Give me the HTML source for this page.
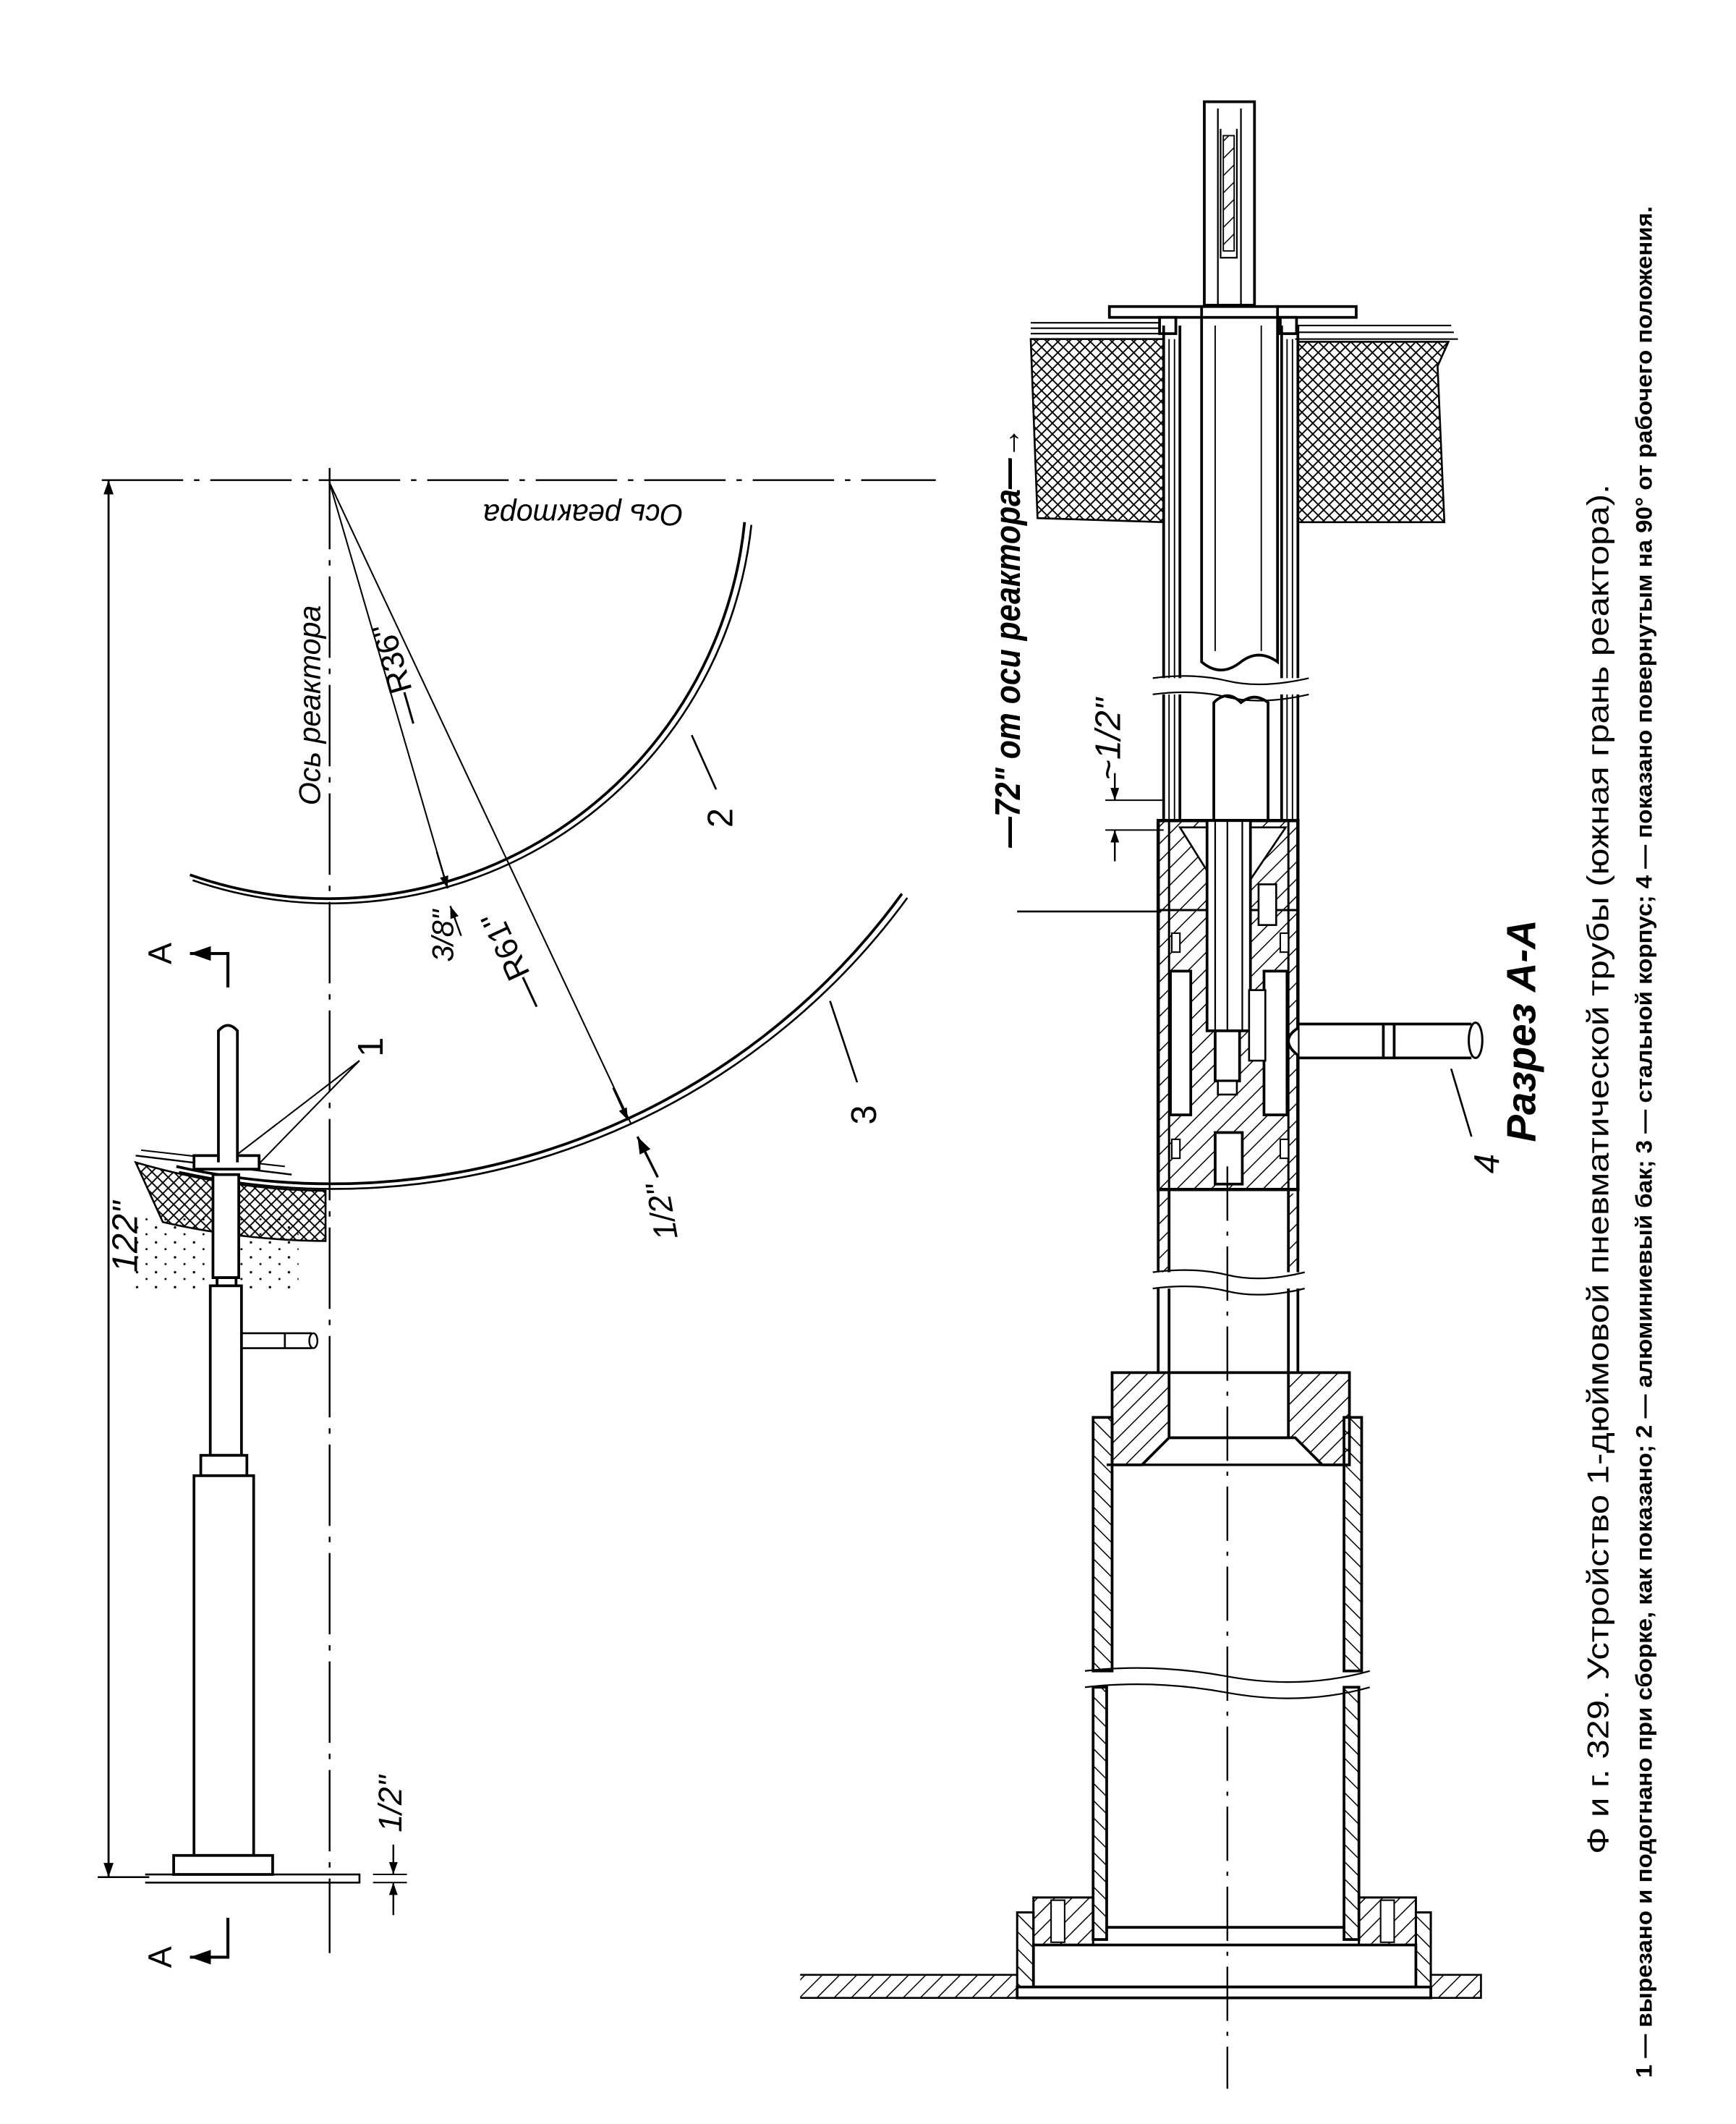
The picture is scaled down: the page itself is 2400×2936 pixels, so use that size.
<!DOCTYPE html>
<html><head><meta charset="utf-8"><style>
html,body{margin:0;padding:0;background:#fff}
svg{display:block}
text{font-family:"Liberation Sans","DejaVu Sans",sans-serif;fill:#000}
.it{font-style:italic}
</style></head><body>
<svg width="2400" height="2936" viewBox="0 0 1280 1566" xmlns="http://www.w3.org/2000/svg">
<defs>
<pattern id="xh" width="8" height="8" patternUnits="userSpaceOnUse">
<path d="M0 0L8 8M8 0L0 8" stroke="#000" stroke-width="1"/>
</pattern>
<pattern id="dh" width="9" height="9" patternUnits="userSpaceOnUse" patternTransform="rotate(45)">
<line x1="0" y1="0" x2="0" y2="9" stroke="#000" stroke-width="1.6"/>
</pattern>
<pattern id="dh2" width="9" height="9" patternUnits="userSpaceOnUse" patternTransform="rotate(-45)">
<line x1="0" y1="0" x2="0" y2="9" stroke="#000" stroke-width="1.6"/>
</pattern>
<pattern id="dots" width="14" height="11" patternUnits="userSpaceOnUse">
<circle cx="3" cy="3" r="0.9"/><circle cx="10" cy="8" r="0.8"/>
</pattern>
<marker id="ar" viewBox="0 0 10 10" refX="10" refY="5" markerWidth="7" markerHeight="7" orient="auto-start-reverse">
<path d="M0 1.5L10 5L0 8.5z"/>
</marker>
</defs>
<g fill="none" stroke="#000" stroke-width="2">
<!-- ===== LEFT VIEW ===== -->
<line x1="75" y1="354" x2="690" y2="354" stroke-width="1.3" stroke-dasharray="60 8 4 8"/>
<line x1="243" y1="345" x2="243" y2="1440" stroke-width="1.3" stroke-dasharray="60 8 4 8"/>
<line x1="80" y1="354" x2="80" y2="1384" stroke-width="1.5" marker-start="url(#ar)" marker-end="url(#ar)"/>
<line x1="72" y1="1384" x2="110" y2="1384" stroke-width="1.3"/>
<!-- arcs -->
<path d="M140 645 A308 308 0 0 0 549 385"/>
<path d="M142 649 A312 312 0 0 0 554 387" stroke-width="1.4"/>
<path d="M130 860 A520 520 0 0 0 665 659"/>
<path d="M132 864 A524 524 0 0 0 669 662" stroke-width="1.4"/>
<!-- radials -->
<line x1="243" y1="356" x2="330" y2="655" stroke-width="1.1"/>
<line x1="243" y1="356" x2="465" y2="828" stroke-width="1.1"/>
<line x1="322" y1="628" x2="330" y2="655" stroke-width="1.3" marker-end="url(#ar)"/>
<line x1="340" y1="690" x2="332" y2="668" stroke-width="1.3" marker-end="url(#ar)"/>
<line x1="452" y1="802" x2="463" y2="826" stroke-width="1.3" marker-end="url(#ar)"/>
<line x1="485" y1="868" x2="470" y2="838" stroke-width="1.8" marker-end="url(#ar)"/>
<!-- leaders -->
<line x1="510" y1="542" x2="528" y2="582" stroke-width="1.4"/>
<line x1="612" y1="738" x2="632" y2="798" stroke-width="1.4"/>
<line x1="265" y1="782" x2="166" y2="858" stroke-width="1.1"/>
<line x1="265" y1="782" x2="188" y2="861" stroke-width="1.1"/>
<!-- concrete band -->
<path d="M100 857 A522 522 0 0 0 240 878 L240 915 A560 560 0 0 1 120 901 Z" fill="url(#xh)" stroke-width="1.4"/>
<rect x="100" y="895" width="120" height="55" fill="url(#dots)" stroke="none"/>
<!-- plates -->
<path d="M100 852 L215 866" stroke-width="1.3"/>
<path d="M104 848 L210 860" stroke-width="1.1"/>
<rect x="143" y="852" width="48" height="10" fill="#fff"/>
<!-- stem -->
<path d="M161 857 L161 760 Q168 752 175 760 L175 857" fill="#fff"/>
<rect x="157" y="866" width="19" height="76" fill="#fff"/>
<rect x="160" y="942" width="14" height="6" fill="#fff"/>
<rect x="155" y="948" width="23" height="125" fill="#fff"/>
<path d="M178 983 L230 983 M178 994 L230 994 M210 983 L210 994" stroke-width="1.4"/>
<ellipse cx="231" cy="988.5" rx="3" ry="5.5" stroke-width="1.3"/>
<rect x="148" y="1073" width="34" height="15" fill="#fff"/>
<rect x="143" y="1088" width="44" height="280" fill="#fff"/>
<rect x="128" y="1368" width="73" height="14" fill="#fff"/>
<path d="M107 1382 L265 1382 L265 1388 L107 1388" stroke-width="1.4"/>
<!-- 1/2 dim -->
<line x1="275" y1="1382" x2="300" y2="1382" stroke-width="1.1"/>
<line x1="275" y1="1388" x2="300" y2="1388" stroke-width="1.1"/>
<line x1="290" y1="1360" x2="290" y2="1382" stroke-width="1.3" marker-end="url(#ar)"/>
<line x1="290" y1="1412" x2="290" y2="1388" stroke-width="1.3" marker-end="url(#ar)"/>
<!-- section marks -->
<path d="M168 728 L168 703 L140 703" stroke-width="2.2" marker-end="url(#ar)"/>
<path d="M168 1414 L168 1443 L140 1443" stroke-width="2.2" marker-end="url(#ar)"/>

<!-- ===== SECTION A-A ===== -->
<rect x="888" y="75" width="37" height="150" fill="#fff"/>
<path d="M898 80 L898 225 M915 80 L915 225 M900 95 L900 190 L912 190 L912 95" stroke-width="1.2"/>
<rect x="902" y="100" width="8" height="85" fill="url(#dh)" stroke-width="1"/>
<rect x="818" y="226" width="182" height="8" fill="#fff"/>
<path d="M760 238 L858 238 M760 242 L858 242 M760 246 L858 246 M955 240 L1070 240 M955 245 L1072 245 M955 250 L1075 250" stroke-width="1.1"/>
<rect x="855" y="234" width="12" height="12" fill="#fff"/>
<rect x="944" y="234" width="12" height="12" fill="#fff"/>
<path d="M760 250 L858 250 L858 385 L765 382 Z" fill="url(#xh)" stroke-width="1.4"/>
<path d="M957 252 L1068 252 L1060 270 L1065 385 L957 385 Z" fill="url(#xh)" stroke-width="1.4"/>
<path d="M858 240 L858 500 M870 240 L870 500 M945 240 L945 500 M957 240 L957 500"/>
<path d="M862 250 L862 500 M866 250 L866 500 M949 250 L949 500 M953 250 L953 500" stroke-width="1"/>
<path d="M858 512 L858 605 M870 512 L870 605 M945 512 L945 605 M957 512 L957 605"/>
<path d="M862 512 L862 605 M866 512 L866 605 M949 512 L949 605 M953 512 L953 605" stroke-width="1"/>
<path d="M850 500 Q880 496 905 502 T965 500 M850 512 Q880 508 905 514 T965 512" stroke-width="1.2"/>
<path d="M886 225 L886 488 Q900 500 915 488 Q928 478 942 488 L942 225"/>
<path d="M896 240 L896 480 M930 240 L930 480" stroke-width="1"/>
<path d="M895 605 L895 518 Q905 508 915 518 Q925 510 935 518 L935 605"/>
<rect x="854" y="605" width="103" height="272" fill="url(#dh)" stroke-width="2.4"/>
<path d="M862 605 L862 877 M950 605 L950 877" stroke-width="1.6"/>
<path d="M870 610 L895 650 L921 650 L948 610 Z" fill="#fff" stroke-width="1.4"/>
<line x1="854" y1="671" x2="957" y2="671" stroke-width="1.6"/>
<rect x="890" y="605" width="32" height="155" fill="#fff"/>
<path d="M896 605 L896 760 M916 605 L916 760 M905 605 L905 760" stroke-width="1.2"/>
<rect x="863" y="716" width="15" height="106" fill="#fff"/>
<rect x="932" y="716" width="17" height="106" fill="#fff"/>
<rect x="921" y="730" width="12" height="52" fill="#fff" stroke-width="1.4"/>
<rect x="896" y="760" width="18" height="37" fill="#fff"/>
<rect x="898" y="797" width="14" height="10" fill="#fff" stroke-width="1.4"/>
<path d="M896 873 L896 835 L916 835 L916 873 Z" fill="#fff"/>
<rect x="928" y="652" width="13" height="30" fill="#fff" stroke-width="1.4"/>
<rect x="864" y="688" width="6" height="14" fill="#fff" stroke-width="1.1"/>
<rect x="944" y="688" width="6" height="14" fill="#fff" stroke-width="1.1"/>
<rect x="864" y="840" width="6" height="14" fill="#fff" stroke-width="1.1"/>
<rect x="944" y="840" width="6" height="14" fill="#fff" stroke-width="1.1"/>
<path d="M957 755 L1085 755 M957 780 L1085 780 M1020 755 L1020 780 M1028 755 L1028 780"/>
<path d="M957 758 Q943 767 957 778" fill="#fff"/>
<ellipse cx="1088" cy="767" rx="5" ry="13" stroke-width="1.6"/>
<line x1="1070" y1="788" x2="1085" y2="838" stroke-width="1.4"/>
<line x1="750" y1="672" x2="856" y2="672" stroke-width="1.4"/>
<line x1="815" y1="590" x2="858" y2="590" stroke-width="1.1"/>
<line x1="815" y1="612" x2="858" y2="612" stroke-width="1.1"/>
<line x1="822" y1="570" x2="822" y2="590" stroke-width="1.3" marker-end="url(#ar)"/>
<line x1="822" y1="635" x2="822" y2="612" stroke-width="1.3" marker-end="url(#ar)"/>
<path d="M854 877 L854 938 M862 877 L862 938 M950 877 L950 938 M957 877 L957 938"/>
<rect x="855" y="880" width="6" height="58" fill="url(#dh)" stroke="none"/>
<rect x="951" y="880" width="6" height="58" fill="url(#dh)" stroke="none"/>
<path d="M850 938 Q880 934 905 940 T962 938 M850 950 Q880 946 905 952 T962 950" stroke-width="1.2"/>
<path d="M854 950 L854 1012 M862 950 L862 1012 M950 950 L950 1012 M957 950 L957 1012"/>
<path d="M820 1012 L995 1012 L995 1080 L975 1080 L955 1060 L862 1060 L842 1080 L820 1080 Z" fill="url(#dh)" stroke-width="2"/>
<rect x="862" y="1012" width="88" height="48" fill="#fff"/>
<path d="M862 1012 L862 1060 L950 1060 L950 1012" stroke-width="1.8"/>
<path d="M806 1045 L820 1045 L820 1232 L806 1232 Z" fill="url(#dh2)"/>
<path d="M991 1045 L1004 1045 L1004 1232 L991 1232 Z" fill="url(#dh2)"/>
<line x1="816" y1="1080" x2="991" y2="1080" stroke-width="1.8"/>
<path d="M800 1232 Q850 1226 905 1236 T1010 1232 M800 1244 Q850 1238 905 1248 T1010 1244" stroke-width="1.2"/>
<path d="M806 1244 L816 1244 L816 1430 L806 1430 Z" fill="url(#dh2)"/>
<path d="M991 1244 L1002 1244 L1002 1430 L991 1430 Z" fill="url(#dh2)"/>
<path d="M762 1399 L806 1399 L806 1434 L762 1434 Z" fill="url(#dh)" stroke-width="1.6"/>
<path d="M1002 1399 L1044 1399 L1044 1434 L1002 1434 Z" fill="url(#dh)" stroke-width="1.6"/>
<rect x="775" y="1401" width="10" height="31" fill="#fff" stroke-width="1.1"/>
<rect x="1018" y="1401" width="10" height="31" fill="#fff" stroke-width="1.1"/>
<path d="M750 1410 L762 1410 L762 1465 L750 1465 Z" fill="url(#dh2)" stroke-width="1.6"/>
<path d="M1044 1410 L1055 1410 L1055 1465 L1044 1465 Z" fill="url(#dh2)" stroke-width="1.6"/>
<path d="M816 1421 L991 1421"/>
<rect x="762" y="1434" width="282" height="31" fill="#fff"/>
<path d="M750 1465 L1055 1465 L1055 1473 L750 1473 Z"/>
<path d="M590 1456 L750 1456 L750 1473 L590 1473" fill="url(#dh)" stroke-width="1.4"/>
<path d="M1055 1456 L1092 1456 L1092 1473 L1055 1473" fill="url(#dh)" stroke-width="1.4"/>
<line x1="905" y1="860" x2="905" y2="1540" stroke-width="1.3" stroke-dasharray="40 8 3 8"/>
</g>

<g font-size="20">
<text x="0" y="0" font-size="26" transform="translate(101,912) rotate(-90)" text-anchor="middle" class="it">122"</text>
<text x="0" y="0" font-size="22" transform="translate(236,520) rotate(-90)" text-anchor="middle" class="it">Ось реактора</text>
<text x="0" y="0" font-size="22" transform="translate(430,372) rotate(180)" text-anchor="middle" class="it">Ось реактора</text>
<text x="0" y="0" font-size="24" transform="translate(300,495) rotate(-106)" text-anchor="middle">—R36"</text>
<text x="0" y="0" font-size="24" transform="translate(385,705) rotate(-115)" text-anchor="middle">—R61"</text>
<text x="0" y="0" font-size="22" transform="translate(334,690) rotate(-90)" text-anchor="middle" class="it">3/8"</text>
<text x="0" y="0" font-size="24" transform="translate(496,892) rotate(-100)" text-anchor="middle" class="it">1/2"</text>
<text x="0" y="0" font-size="24" transform="translate(296,1330) rotate(-90)" text-anchor="middle" class="it">1/2"</text>
<text x="0" y="0" font-size="26" transform="translate(282,772) rotate(-90)" text-anchor="middle">1</text>
<text x="0" y="0" font-size="26" transform="translate(540,603) rotate(-90)" text-anchor="middle">2</text>
<text x="0" y="0" font-size="26" transform="translate(646,822) rotate(-90)" text-anchor="middle">3</text>
<text x="0" y="0" font-size="24" transform="translate(126,703) rotate(-90)" text-anchor="middle">A</text>
<text x="0" y="0" font-size="24" transform="translate(126,1443) rotate(-90)" text-anchor="middle">A</text>
<text x="0" y="0" font-size="26" transform="translate(1105,858) rotate(-90)" text-anchor="middle" class="it">4</text>
<text x="0" y="0" font-size="26" transform="translate(826,545) rotate(-90)" text-anchor="middle" class="it">~1/2"</text>
<text x="0" y="0" font-size="26" font-weight="bold" transform="translate(752,470) rotate(-90)" text-anchor="middle" class="it" textLength="310" lengthAdjust="spacingAndGlyphs">—72" от оси реактора—→</text>
<text x="0" y="0" font-size="30" font-weight="bold" transform="translate(1132,760) rotate(-90)" text-anchor="middle" class="it">Разрез А-А</text>
<text x="0" y="0" font-size="22" transform="translate(1186,862) rotate(-90)" text-anchor="middle" textLength="1010" lengthAdjust="spacingAndGlyphs">Ф и г. 329.  Устройство  1-дюймовой  пневматической  трубы  (южная грань реактора).</text>
<text x="0" y="0" font-size="17" font-weight="bold" transform="translate(1218,842) rotate(-90)" text-anchor="middle" textLength="1380" lengthAdjust="spacingAndGlyphs">1 — вырезано и подогнано при сборке, как показано; 2 — алюминиевый бак; 3 — стальной корпус; 4 — показано повернутым на 90° от рабочего положения.</text>
</g>
</svg>
</body></html>
